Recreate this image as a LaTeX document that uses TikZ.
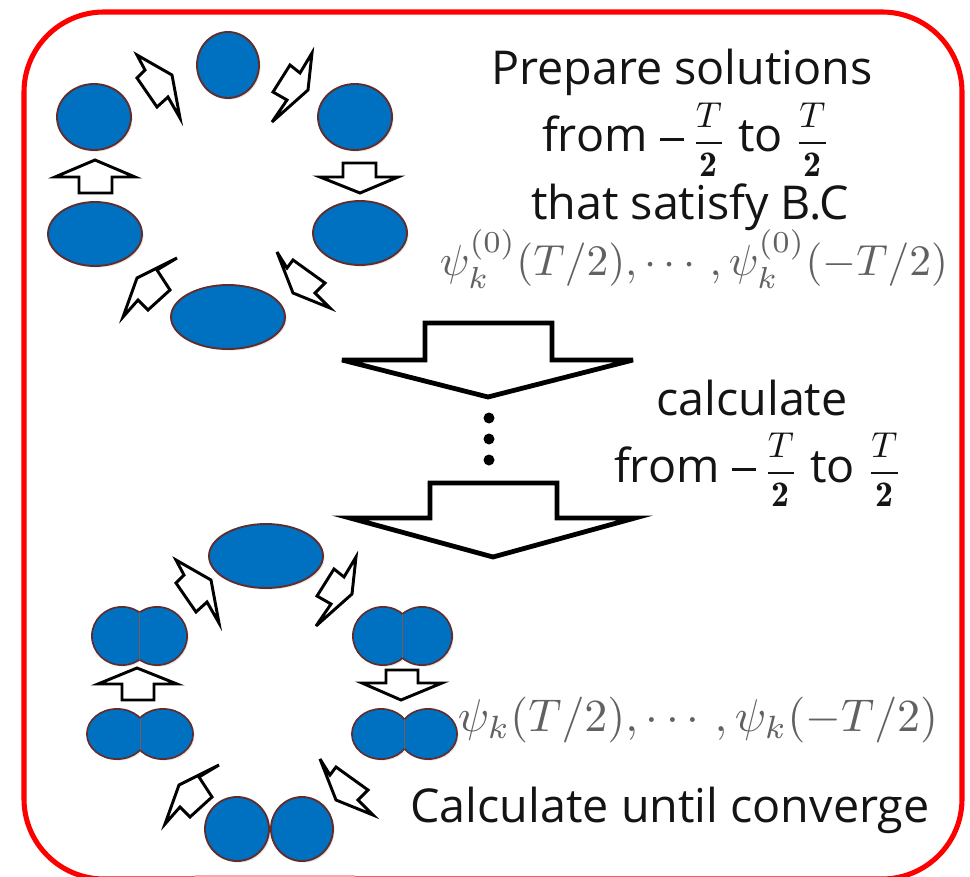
\documentclass[tikz,border=0pt]{standalone}
\usepackage{fontspec}
\usepackage{amsmath}
\usepackage{graphicx}
\newfontfamily\labelfont{Open Sans}
\usetikzlibrary{shapes.geometric,shadows}
\definecolor{blobblue}{RGB}{0,112,192}
\definecolor{blobedge}{RGB}{96,44,44}
\definecolor{framered}{RGB}{255,0,0}
\newcommand\blobat[5]{\node[blob,minimum width=#4*1.5pt,minimum height=#5*1.5pt] (#1) at (#2,#3) {};}
% name, x1, x2, y, rx, ry
\newcommand\twoblob[6]{%
  \node[blob,minimum width=#5*1.5pt,minimum height=#6*1.5pt] (#1l) at (#2,#4) {};
  \node[blob,minimum width=#5*1.5pt,minimum height=#6*1.5pt] (#1r) at (#3,#4) {};
  \node[blobfill,minimum width=#5*1.5pt-1.4pt,minimum height=#6*1.5pt-1.4pt] (#1fa) at (#2,#4) {};
  \node[blobfill,minimum width=#5*1.5pt-1.4pt,minimum height=#6*1.5pt-1.4pt] (#1fb) at (#3,#4) {};
  \draw[blobedge!80, line width=0.6pt]
    ({(#2+#3)/2},{#4-#6*sqrt(1-((#3-#2)/(2*#5))^2)}) -- ({(#2+#3)/2},{#4+#6*sqrt(1-((#3-#2)/(2*#5))^2)});
}
\newcommand\halffrac{\scalebox{2.7}{\normalsize$\dfrac{T}{\mathbf{2}}$}}
\newcommand\bigminus{\rule[8.5pt]{18pt}{1.9pt}}
\begin{document}
\begin{tikzpicture}[x=0.75pt,y=-0.75pt,
  blob/.style={ellipse, draw=blobedge, line width=1.4pt, fill=blobblue, inner sep=0pt,
    drop shadow={shadow xshift=1.2pt,shadow yshift=-1.2pt,opacity=0.2}},
  blobfill/.style={ellipse, fill=blobblue, draw=none, inner sep=0pt},
  blockarrow/.style={draw=black, fill=white, line width=2.2pt, line join=miter, miter limit=6},
  bigarrow/.style={draw=black, fill=white, line width=3.6pt, line join=miter, miter limit=8},
  labeltxt/.style={font=\labelfont\fontsize{35}{40}\selectfont, inner sep=0pt, text=black!92, anchor=base},
  formula/.style={inner sep=0pt, text=black!62}]
\useasboundingbox (0,0) rectangle (970,877);
\fill[white] (0,0) rectangle (970,877);

% frame
\draw[framered, line width=3.8pt, rounded corners=60pt] (24,12) rectangle (962,879);
\draw[red!35, line width=1pt] (195,876) -- (355,876);

% top ring
\blobat{a1}{228}{65}{31}{33}
\blobat{a2}{355}{117}{37}{33}
\blobat{a3}{360}{233}{47}{32}
\blobat{a4}{228}{317}{57}{32}
\blobat{a5}{95}{234}{47}{32}
\blobat{a6}{94}{117}{37}{33}

\draw[blockarrow] (137,55) -- (172,75) -- (180,118) -- (168,97) -- (157,107) -- (137,78) -- (145,70) -- cycle;
\draw[blockarrow] (312,53) -- (308,90) -- (272,122) -- (287,100) -- (273,92) -- (290,65) -- (300,73) -- cycle;
\draw[blockarrow] (343,163) -- (376,163) -- (376,177) -- (398,177) -- (360,193) -- (320,177) -- (343,177) -- cycle;
\draw[blockarrow] (277,252) -- (287,268) -- (293,260) -- (325,283) -- (315,293) -- (330,308) -- (293,293) -- cycle;
\draw[blockarrow] (177,258) -- (157,270) -- (170,290) -- (148,310) -- (138,300) -- (123,317) -- (137,278) -- cycle;
\draw[blockarrow] (95,160) -- (135,177) -- (112,177) -- (112,193) -- (79,193) -- (79,177) -- (55,177) -- cycle;

% big arrows and dots
\draw[bigarrow] (425,323) -- (552,323) -- (552,360) -- (633,360) -- (488,397) -- (342,360) -- (425,360) -- cycle;
\fill (489,418) circle[radius=5.5];
\fill (489,439) circle[radius=5.5];
\fill (489,460) circle[radius=5.5];
\draw[bigarrow] (430,483) -- (557,483) -- (557,518) -- (635,518) -- (493,557) -- (350,518) -- (430,518) -- cycle;

% bottom ring
\blobat{b1}{266}{556}{57}{32}
\twoblob{b2}{383}{422}{636}{30}{29}
\twoblob{b3}{381}{428}{734}{29}{25}
\blobat{b4l}{237}{829}{32}{32}
\blobat{b4r}{302}{829}{31}{32}
\twoblob{b5}{117}{163}{734}{30}{25}
\twoblob{b6}{122}{157}{636}{30}{29}

\draw[blockarrow] (176,560) -- (211,580) -- (219,623) -- (207,602) -- (196,612) -- (176,583) -- (184,575) -- cycle;
\draw[blockarrow] (356,557) -- (352,594) -- (316,626) -- (331,604) -- (317,596) -- (334,569) -- (344,577) -- cycle;
\draw[blockarrow] (386,670) -- (418,670) -- (418,683) -- (442,683) -- (401,700) -- (362,683) -- (386,683) -- cycle;
\draw[blockarrow] (320,759) -- (330,775) -- (336,767) -- (368,790) -- (358,800) -- (373,815) -- (336,800) -- cycle;
\draw[blockarrow] (219,765) -- (199,777) -- (212,797) -- (190,817) -- (180,807) -- (165,824) -- (179,785) -- cycle;
\draw[blockarrow] (137,668) -- (177,684) -- (154,684) -- (154,700) -- (122,700) -- (122,684) -- (98,684) -- cycle;

% texts
\node[labeltxt] (t1) at (682,85) {Prepare solutions};
\node[labeltxt] (t2) at (686,152) {from \bigminus\,\halffrac\ to \halffrac};
\node[labeltxt] (t3) at (690,220) {that satisfy B.C};
\node[formula] (p1) at (694,259) {\resizebox{381pt}{!}{$\psi_k^{(0)}(T/2),\cdots,\psi_k^{(0)}(-T/2)$}};
\node[labeltxt] (t4) at (752,415) {calculate};
\node[labeltxt] (t5) at (758,482) {from \bigminus\,\halffrac\ to \halffrac};
\node[formula] (p2) at (698,720) {\resizebox{360pt}{!}{$\psi_k(T/2),\cdots,\psi_k(-T/2)$}};
\node[labeltxt] (t6) at (670,822) {Calculate until converge};
\end{tikzpicture}
\end{document}
